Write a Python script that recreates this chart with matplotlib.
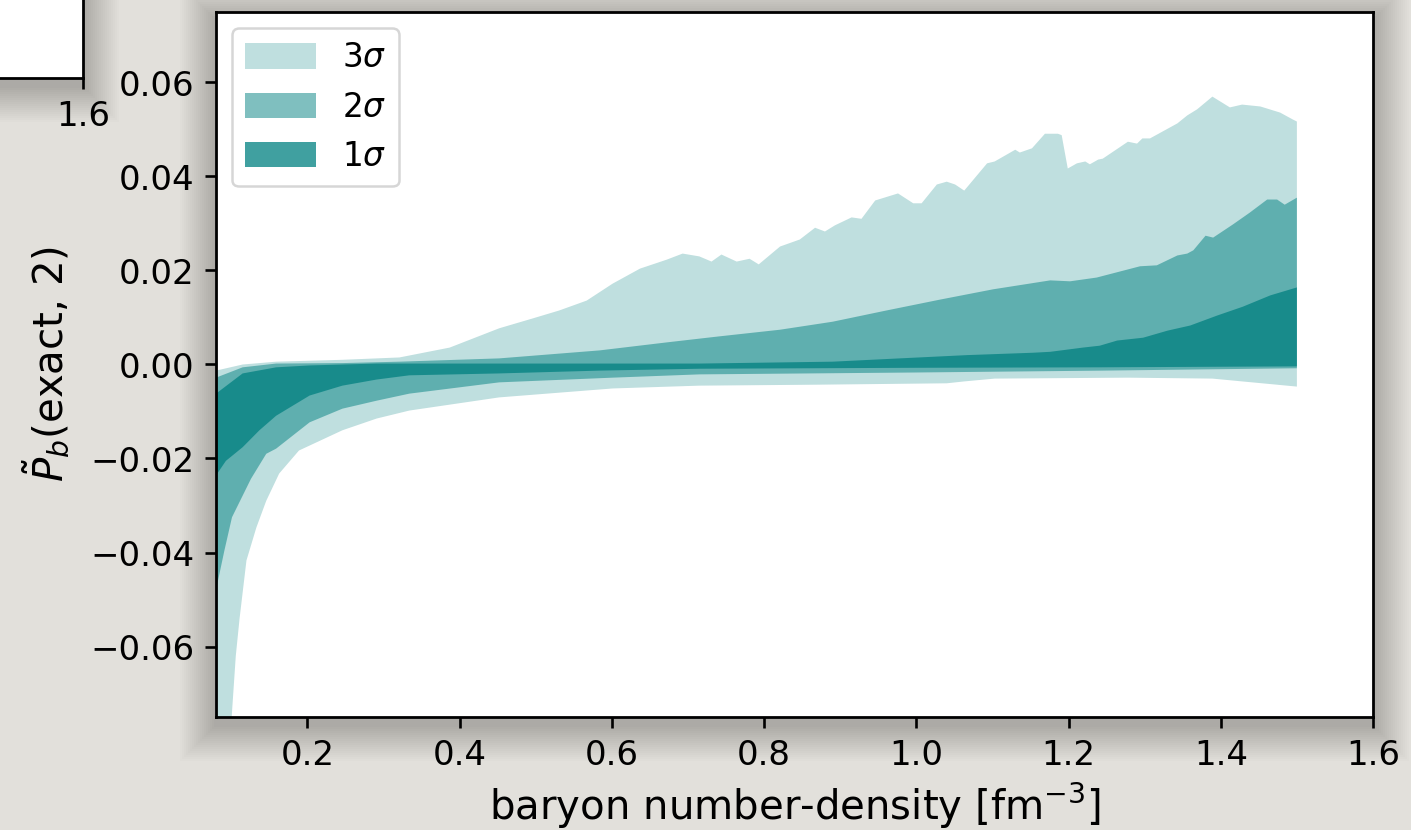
"""Credible bands of the pressure correction vs baryon density"""
import numpy as np
import matplotlib.pyplot as plt
from matplotlib.patches import Rectangle

# --- band edges (density in fm^-3, value) ---
n_3s_hi = [0.08, 0.115, 0.159, 0.246, 0.321, 0.387, 0.452, 0.496, 0.531, 0.567,
           0.601, 0.637, 0.672, 0.693, 0.715, 0.731, 0.744, 0.764, 0.781, 0.793,
           0.821, 0.847, 0.867, 0.880, 0.893, 0.915, 0.928, 0.946, 0.976, 0.996,
           1.007, 1.027, 1.040, 1.051, 1.063, 1.093, 1.103, 1.130, 1.136, 1.152,
           1.169, 1.186, 1.191, 1.199, 1.211, 1.222, 1.228, 1.239, 1.245, 1.278,
           1.290, 1.297, 1.307, 1.343, 1.356, 1.369, 1.389, 1.412, 1.428, 1.452,
           1.478, 1.495, 1.5]
p_3s_hi = [-0.0013, 0.0, 0.0006, 0.0010, 0.0015, 0.0036, 0.0077, 0.0098, 0.0115, 0.0136,
           0.0172, 0.0204, 0.0223, 0.0236, 0.0230, 0.0219, 0.0234, 0.0219, 0.0225, 0.0213,
           0.0251, 0.0266, 0.0291, 0.0283, 0.0296, 0.0313, 0.0310, 0.0349, 0.0364, 0.0343,
           0.0343, 0.0383, 0.0389, 0.0383, 0.0370, 0.0428, 0.0432, 0.0457, 0.0451, 0.0460,
           0.0491, 0.0491, 0.0488, 0.0417, 0.0428, 0.0432, 0.0426, 0.0436, 0.0438, 0.0474,
           0.0470, 0.0481, 0.0481, 0.0513, 0.0530, 0.0543, 0.0570, 0.0547, 0.0553, 0.0549,
           0.0536, 0.0521, 0.0517]
n_3s_lo = [0.08, 0.092, 0.101, 0.106, 0.111, 0.120, 0.133, 0.146, 0.163, 0.189,
           0.246, 0.291, 0.334, 0.452, 0.601, 0.715, 0.867, 1.040, 1.063, 1.103,
           1.278, 1.389, 1.5]
p_3s_lo = [-0.14, -0.10, -0.074, -0.062, -0.054, -0.0417, -0.0347, -0.029, -0.0232, -0.0183,
           -0.014, -0.0115, -0.0098, -0.0070, -0.0051, -0.0045, -0.0043, -0.0040, -0.0036, -0.0030,
           -0.0028, -0.0030, -0.0047]

n_2s_hi = [0.08, 0.115, 0.159, 0.246, 0.321, 0.452, 0.584, 0.672, 0.715, 0.742,
           0.821, 0.890, 0.961, 1.031, 1.101, 1.176, 1.202, 1.237, 1.294, 1.316,
           1.343, 1.356, 1.364, 1.380, 1.390, 1.416, 1.438, 1.461, 1.474, 1.484, 1.5]
p_2s_hi = [-0.0028, -0.0006, 0.0002, 0.0003, 0.0006, 0.0013, 0.0030, 0.0047, 0.0055, 0.0060,
           0.0074, 0.0091, 0.0115, 0.0138, 0.0160, 0.0179, 0.0177, 0.0185, 0.0209, 0.0211,
           0.0232, 0.0236, 0.0243, 0.0274, 0.0270, 0.0298, 0.0323, 0.0351, 0.0351, 0.0340, 0.0355]
n_2s_lo = [0.08, 0.091, 0.101, 0.126, 0.146, 0.159, 0.203, 0.246, 0.291, 0.334,
           0.452, 0.601, 0.715, 1.0, 1.245, 1.5]
p_2s_lo = [-0.048, -0.0396, -0.0325, -0.0243, -0.019, -0.0179, -0.0123, -0.0094, -0.0077, -0.0062,
           -0.0038, -0.0028, -0.0021, -0.0017, -0.0013, -0.0008]

n_1s_hi = [0.08, 0.115, 0.159, 0.203, 0.291, 0.452, 0.715, 0.890, 0.978, 1.067,
           1.153, 1.176, 1.219, 1.241, 1.264, 1.298, 1.330, 1.360, 1.395, 1.429,
           1.465, 1.5]
p_1s_hi = [-0.0062, -0.0019, -0.0006, -0.0002, 0.0002, 0.0002, 0.0002, 0.0006, 0.0013, 0.0020,
           0.0025, 0.0027, 0.0036, 0.0040, 0.0051, 0.0057, 0.0072, 0.0083, 0.0104, 0.0123,
           0.0147, 0.0164]
n_1s_lo = [0.08, 0.093, 0.115, 0.137, 0.159, 0.203, 0.246, 0.291, 0.334, 0.452,
           0.584, 0.715, 1.0, 1.241, 1.5]
p_1s_lo = [-0.0236, -0.0205, -0.0176, -0.0140, -0.0109, -0.0066, -0.0045, -0.0032, -0.0023, -0.0019,
           -0.0013, -0.0009, -0.0007, -0.0006, -0.0004]

band_labels = [r'3$\sigma$', r'2$\sigma$', r'1$\sigma$']
band_alphas = [0.25, 0.5, 0.75]

x_ticks = [0.2, 0.4, 0.6, 0.8, 1.0, 1.2, 1.4, 1.6]
y_ticks = [-0.06, -0.04, -0.02, 0.00, 0.02, 0.04, 0.06]

W, H = 1411, 830
PAPER = '#e2e0db'
FS = 24.5      # tick labels
FS_LAB = 29.0  # axis labels


def px_box(x0, y0, x1, y1):
    """pixel box (top-left origin) -> figure fraction [l, b, w, h]"""
    return [x0 / W, 1 - y1 / H, (x1 - x0) / W, (y1 - y0) / H]


def add_shadow(fig, x0, y0, x1, y1, dy=8, layers=18, spread=36):
    for i in range(layers):
        pad = spread * (i + 1) / layers
        l, b, w, h = px_box(x0 - pad, y0 - pad + dy, x1 + pad, y1 + pad + dy)
        fig.add_artist(Rectangle((l, b), w, h, transform=fig.transFigure,
                                 facecolor='black', edgecolor='none',
                                 alpha=0.012, zorder=-5))


def style_axes(ax):
    for s in ax.spines.values():
        s.set_linewidth(2.0)
    ax.tick_params(labelsize=FS, length=8.2, width=1.9, pad=7.5)


fig = plt.figure(figsize=(W / 100, H / 100), dpi=100, facecolor=PAPER)

# card of the neighbouring panel peeking in at the top left
add_shadow(fig, -60, -60, 83, 78)
ax0 = fig.add_axes(px_box(-200, -100, 83, 78))
ax0.set_xlim(0.0, 1.6)
ax0.set_xticks([1.6])
ax0.set_xticklabels(['1.6'])
ax0.set_yticks([])
style_axes(ax0)

# main panel
add_shadow(fig, 216, 12, 1373, 717)
ax = fig.add_axes(px_box(216, 12, 1373, 717))

bands = [(n_3s_hi, p_3s_hi, n_3s_lo, p_3s_lo),
         (n_2s_hi, p_2s_hi, n_2s_lo, p_2s_lo),
         (n_1s_hi, p_1s_hi, n_1s_lo, p_1s_lo)]
for (nh, ph, nl, pl), lab, a in zip(bands, band_labels, band_alphas):
    xs = np.r_[nh, nl[::-1]]
    ys = np.r_[ph, pl[::-1]]
    ax.fill(xs, ys, color='teal', alpha=a, lw=0, label=lab)

ax.set_xlim(0.08, 1.6)
ax.set_ylim(-0.075, 0.075)
ax.set_xticks(x_ticks)
ax.set_yticks(y_ticks)
ax.set_xticklabels([f'{t:.1f}' for t in x_ticks])
ax.set_yticklabels([f'{t:.2f}'.replace('-', '\u2212') for t in y_ticks])
style_axes(ax)

ax.set_xlabel(r'baryon number-density [fm$^{-3}$]', fontsize=FS_LAB)
ax.set_ylabel(r'$\tilde{P}_b$(exact, 2)', fontsize=FS_LAB)
ax.xaxis.set_label_coords(0.5, -0.09)
ax.yaxis.set_label_coords(-0.125, 0.5)

leg = ax.legend(loc='upper left', fontsize=23.5, handlelength=2.15, handleheight=0.82,
                labelspacing=0.5, borderaxespad=0.5, handletextpad=0.8,
                fancybox=True, framealpha=0.8)
leg.get_frame().set_linewidth(1.8)

plt.savefig('out.png', dpi=100, facecolor=PAPER)
